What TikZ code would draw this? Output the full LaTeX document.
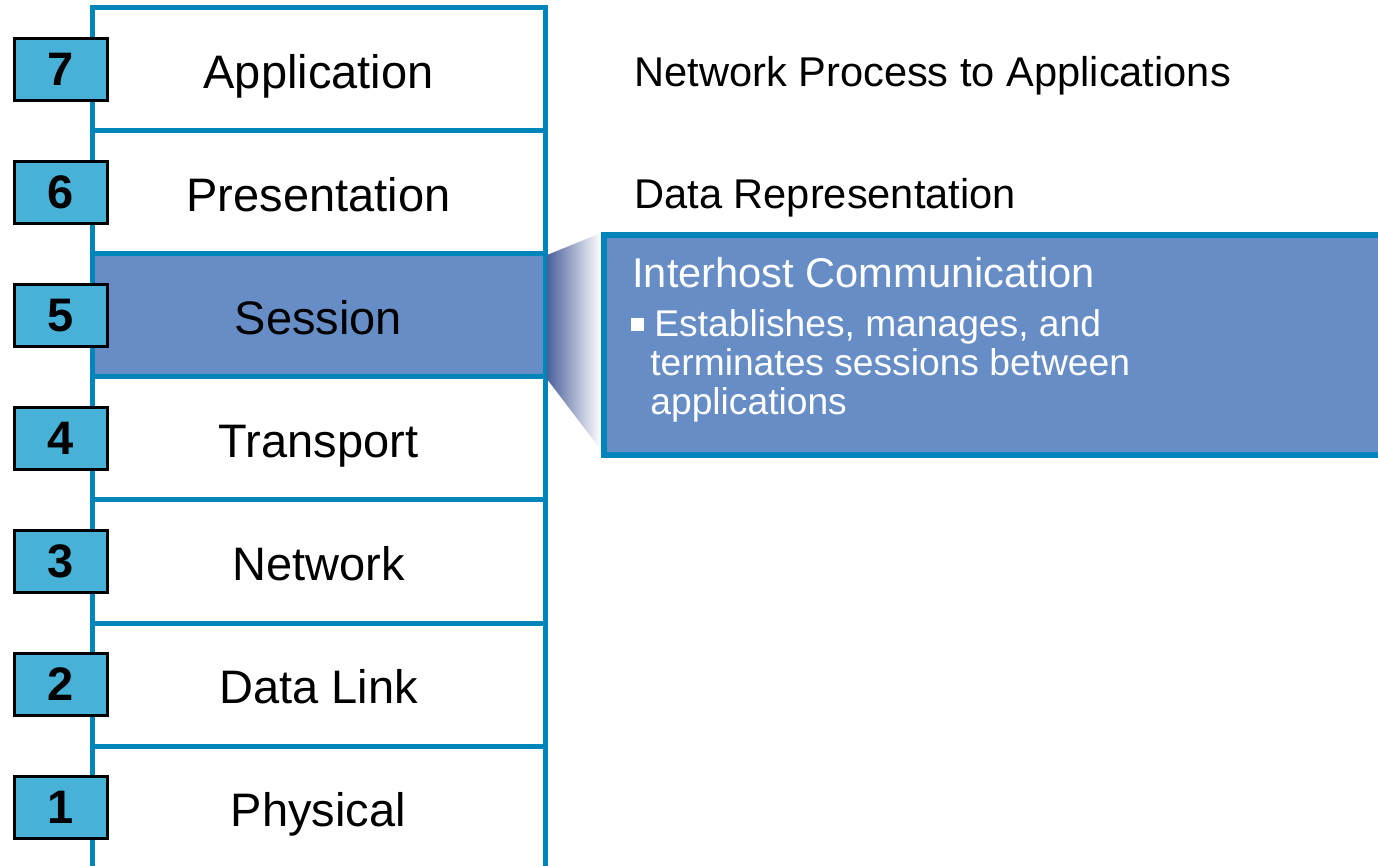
\documentclass[tikz,border=0pt]{standalone}
\usepackage{fontspec}
\setmainfont{Liberation Sans}
\usetikzlibrary{positioning}

\definecolor{osiblue}{HTML}{0085BB}
\definecolor{sessfill}{HTML}{678DC6}
\definecolor{numfill}{HTML}{47B1D7}
\definecolor{wedgedark}{HTML}{4B5F9B}

\begin{document}
\begin{tikzpicture}[x=0.5pt, y=-0.5pt,
    layerbox/.style={draw=osiblue, line width=2.5pt, outer sep=0pt, inner sep=0pt,
      minimum width=226.5pt, minimum height=61.5pt, text height=21pt, text depth=1.8pt,
      font=\fontsize{23.5}{28}\selectfont},
    plainrow/.style={},
    hilite/.style={fill=sessfill},
    numbox/.style={draw=black, line width=1.5pt, fill=numfill, inner sep=0pt,
      minimum width=46.5pt, minimum height=31pt, font=\bfseries\fontsize{23.5}{26}\selectfont},
    desc/.style={anchor=base west, inner sep=0pt, font=\fontsize{20.8}{25}\selectfont},
    bullet/.style={anchor=base west, inner sep=0pt, text=white, font=\fontsize{18.6}{19.5}\selectfont}]
  \useasboundingbox (0,0) rectangle (1378,866);

  % The seven layers, top to bottom
  \foreach \n/\name/\s [count=\i] in {7/Application/plainrow, 6/Presentation/plainrow,
      5/Session/hilite, 4/Transport/plainrow, 3/Network/plainrow,
      2/Data Link/plainrow, 1/Physical/plainrow} {
    \node[layerbox, \s, anchor=north] (L\n) at (318.5,{8+123*(\i-1)}) {\name};
  }

  % Fade from the session layer to its detail box
  \shade[left color=wedgedark, right color=white]
    (547,255) -- (601,233) -- (601,450) -- (547,379) -- cycle;

  % Detail box (runs off the right edge)
  \node[draw=osiblue, line width=3pt, fill=sessfill, anchor=north west,
    minimum width=400pt, minimum height=110pt, inner sep=0pt] (detail) at (601,232) {};

  % Layer numbers
  \foreach \n in {7,...,1} {
    \node[numbox, xshift=-15.5pt] (N\n) at (L\n.west) {\n};
  }

  % Descriptions
  \node[desc] (d7) at (634,87) {Network Process to Applications};
  \node[desc] (d6) at (634,209) {Data Representation};
  \node[desc, text=white] (d5) at (632,288) {Interhost Communication};
  \node[fill=white, inner sep=0pt, minimum size=6.5pt] (sq) at (637,324.5) {};
  \node[bullet] (b1) at (654,337) {Establishes, manages, and};
  \node[bullet] (b2) at (650,376) {terminates sessions between};
  \node[bullet] (b3) at (650,415) {applications};
\end{tikzpicture}
\end{document}
